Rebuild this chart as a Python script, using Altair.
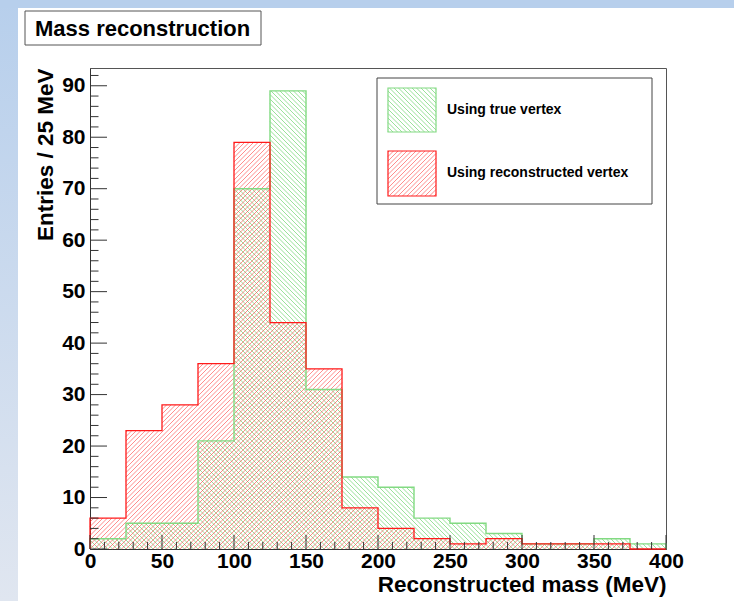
import math
import altair as alt
import pandas as pd

# ---------------- data ----------------
bin_low = [0, 25, 50, 75, 100, 125, 150, 175, 200, 225, 250, 275, 300, 325, 350, 375]
bin_width = 25
true_vertex = [2, 5, 5, 21, 70, 89, 31, 14, 12, 6, 5, 3, 1, 1, 2, 1]
reco_vertex = [6, 23, 28, 36, 79, 44, 35, 8, 4, 2, 1, 2, 1, 1, 1, 0]
series_names = ["Using true vertex", "Using reconstructed vertex"]
x_major = [0, 50, 100, 150, 200, 250, 300, 350, 400]
x_minor = [v for v in range(0, 401, 10) if v % 50]
y_major = [0, 10, 20, 30, 40, 50, 60, 70, 80, 90]
y_minor = [v for v in range(2, 94, 2) if v % 10]

# ---------------- layout / style ----------------
W, H = 576, 481
XMAX = 400
YMAX = 1.05 * max(max(true_vertex), max(reco_vertex))
KX, KY = W / XMAX, H / YMAX
FONT = "Liberation Sans"
GREEN_LINE = "#82da82"
GREEN_HATCH = "#55cc55"
RED_LINE = "#ff1a1a"
RED_HATCH = "#ff4040"
HATCH_OPACITY = 0.75
SPACING = 4.5
TICK_COLOR = "#333333"


def hatch_rect(a, b, v0, v1, direction, s=SPACING):
    """hatch segments (pixel units, v upward) inside rectangle [a,b]x[v0,v1]"""
    segs = []
    if v1 <= v0:
        return segs
    if direction == "/":
        kmin, kmax = math.floor((a - v1) / s), math.ceil((b - v0) / s)
        for k in range(kmin, kmax + 1):
            c = k * s
            u0, u1 = max(a, c + v0), min(b, c + v1)
            if u1 - u0 > 0.3:
                segs.append((u0, u0 - c, u1, u1 - c))
    else:
        kmin, kmax = math.floor((a + v0) / s), math.ceil((b + v1) / s)
        for k in range(kmin, kmax + 1):
            c = k * s
            u0, u1 = max(a, c - v1), min(b, c - v0)
            if u1 - u0 > 0.3:
                segs.append((u0, c - u0, u1, c - u1))
    return segs


def hist_hatch(values, direction):
    rows = []
    for lo, v in zip(bin_low, values):
        for u0, w0, u1, w1 in hatch_rect(lo * KX, (lo + bin_width) * KX, 0, v * KY, direction):
            rows.append({"x": u0 / KX, "y": w0 / KY, "x2": u1 / KX, "y2": w1 / KY})
    return pd.DataFrame(rows)


def swatch_hatch(px0, px1, py0, py1, direction):
    rows = []
    for u0, w0, u1, w1 in hatch_rect(px0, px1, H - py1, H - py0, direction):
        rows.append({"x": u0 / KX, "y": w0 / KY, "x2": u1 / KX, "y2": w1 / KY})
    return pd.DataFrame(rows)


def step_table(values):
    pts = [{"x": bin_low[0], "y": 0}]
    for lo, v in zip(bin_low, values):
        pts.append({"x": lo, "y": v})
        pts.append({"x": lo + bin_width, "y": v})
    pts.append({"x": bin_low[-1] + bin_width, "y": 0})
    df = pd.DataFrame(pts)
    df["i"] = range(len(df))
    return df


def ytick_table(vals, length_px):
    return pd.DataFrame({"y": vals, "x": [0.0] * len(vals), "x2": [length_px / KX] * len(vals)})


def xtick_table(vals, length_px):
    return pd.DataFrame({"x": vals, "y": [0.0] * len(vals), "y2": [length_px / KY] * len(vals)})


x_scale = alt.Scale(domain=[0, XMAX], nice=False, zero=False)
y_scale = alt.Scale(domain=[0, YMAX], nice=False, zero=True)

x_axis = alt.Axis(
    values=x_major, title="Reconstructed mass (MeV)", grid=False,
    ticks=False, tickSize=0, domainColor="#333333", domainWidth=1,
    labelFont=FONT, labelFontWeight="bold", labelFontSize=21, labelColor="black",
    labelBaseline="alphabetic", labelPadding=18, labelFlush=False, labelOverlap=False,
    titleFont=FONT, titleFontWeight="bold", titleFontSize=22.5, titleColor="black",
    titleAnchor="end", titleAlign="right", titleBaseline="alphabetic", titleX=W, titleY=42,
)
y_axis = alt.Axis(
    values=y_major, title="Entries / 25 MeV", grid=False,
    ticks=False, tickSize=0, domainColor="#333333", domainWidth=1,
    labelFont=FONT, labelFontWeight="bold", labelFontSize=21, labelColor="black",
    labelPadding=5, labelFlush=False, labelOverlap=False,
    titleFont=FONT, titleFontWeight="bold", titleFontSize=22.5, titleColor="black",
    titleAnchor="end", titleAlign="right", titleBaseline="middle", titleAngle=270,
    titleX=-45, titleY=0,
)


def xe(field="x"):
    return alt.X(f"{field}:Q", scale=x_scale, axis=x_axis)


def ye(field="y"):
    return alt.Y(f"{field}:Q", scale=y_scale, axis=y_axis)


def segs(df, color, width, opacity=1.0):
    return alt.Chart(df).mark_rule(stroke=color, strokeWidth=width, strokeOpacity=opacity).encode(
        x=xe(), x2="x2:Q", y=ye(), y2="y2:Q")


one = pd.DataFrame({"d": [0]})

# background strips (canvas frame)
bg_grad = alt.Gradient(gradient="linear", x1=0, x2=0, y1=0, y2=1,
                       stops=[alt.GradientStop(color="#b7cfec", offset=0),
                              alt.GradientStop(color="#e0e6f0", offset=1)])
left_strip = alt.Chart(one).mark_rect(fill=bg_grad).encode(
    x=alt.value(-90), x2=alt.value(-72), y=alt.value(-68), y2=alt.value(H + 52))
top_strip = alt.Chart(one).mark_rect(fill="#b7cfec").encode(
    x=alt.value(-90), x2=alt.value(W + 68), y=alt.value(-68), y2=alt.value(-60))

# hatching
green_h = segs(hist_hatch(true_vertex, "\\"), GREEN_HATCH, 0.8, HATCH_OPACITY)
red_h = segs(hist_hatch(reco_vertex, "/"), RED_HATCH, 0.8, HATCH_OPACITY)

# outlines
green_l = alt.Chart(step_table(true_vertex)).mark_line(
    stroke=GREEN_LINE, strokeWidth=1.4, interpolate="linear").encode(
    x=xe(), y=ye(), order="i:Q")
red_l = alt.Chart(step_table(reco_vertex)).mark_line(
    stroke=RED_LINE, strokeWidth=1.3, interpolate="linear").encode(
    x=xe(), y=ye(), order="i:Q")

# inward ticks (ROOT style)
ytick_major = segs(ytick_table(y_major, 17), TICK_COLOR, 1)
ytick_minor = segs(ytick_table(y_minor, 8.5), TICK_COLOR, 1)
xtick_major = segs(xtick_table(x_major, 14), TICK_COLOR, 1)
xtick_minor = segs(xtick_table(x_minor, 7), TICK_COLOR, 1)

# legend
leg_box = alt.Chart(one).mark_rect(fill="white", stroke="#444444", strokeWidth=1).encode(
    x=alt.value(287), x2=alt.value(562), y=alt.value(10), y2=alt.value(136))
sw = [(298, 346, 20, 64), (298, 346, 83, 128)]
leg_gh = segs(swatch_hatch(*sw[0], "\\"), GREEN_HATCH, 0.8, HATCH_OPACITY)
leg_rh = segs(swatch_hatch(*sw[1], "/"), RED_HATCH, 0.8, HATCH_OPACITY)
leg_gb = alt.Chart(one).mark_rect(fill=None, stroke=GREEN_LINE, strokeWidth=1.2).encode(
    x=alt.value(sw[0][0]), x2=alt.value(sw[0][1]), y=alt.value(sw[0][2]), y2=alt.value(sw[0][3]))
leg_rb = alt.Chart(one).mark_rect(fill=None, stroke=RED_LINE, strokeWidth=1.2).encode(
    x=alt.value(sw[1][0]), x2=alt.value(sw[1][1]), y=alt.value(sw[1][2]), y2=alt.value(sw[1][3]))
leg_t1 = alt.Chart(one).mark_text(
    font=FONT, fontWeight="bold", fontSize=14, align="left", baseline="middle", color="black").encode(
    x=alt.value(357), y=alt.value(42), text=alt.value(series_names[0]))
leg_t2 = alt.Chart(one).mark_text(
    font=FONT, fontWeight="bold", fontSize=14, align="left", baseline="middle", color="black").encode(
    x=alt.value(357), y=alt.value(105), text=alt.value(series_names[1]))

# title box
title_box = alt.Chart(one).mark_rect(fill="white", stroke="#555555", strokeWidth=1).encode(
    x=alt.value(-65), x2=alt.value(171), y=alt.value(-57), y2=alt.value(-23))
title_txt = alt.Chart(one).mark_text(
    font=FONT, fontWeight="bold", fontSize=22, align="left", baseline="middle", color="black").encode(
    x=alt.value(-55), y=alt.value(-39), text=alt.value("Mass reconstruction"))

chart = alt.layer(
    left_strip, top_strip,
    green_h, red_h, green_l, red_l,
    ytick_major, ytick_minor, xtick_major, xtick_minor,
    leg_box, leg_gh, leg_rh, leg_gb, leg_rb, leg_t1, leg_t2,
    title_box, title_txt,
).properties(
    width=W, height=H,
    autosize=alt.AutoSizeParams(type="none"),
    padding={"left": 90, "top": 68, "right": 68, "bottom": 52},
).configure(background="white").configure_view(stroke="#555555", strokeWidth=1)

chart.save("out.html", embed_options={"renderer": "svg", "actions": False})
